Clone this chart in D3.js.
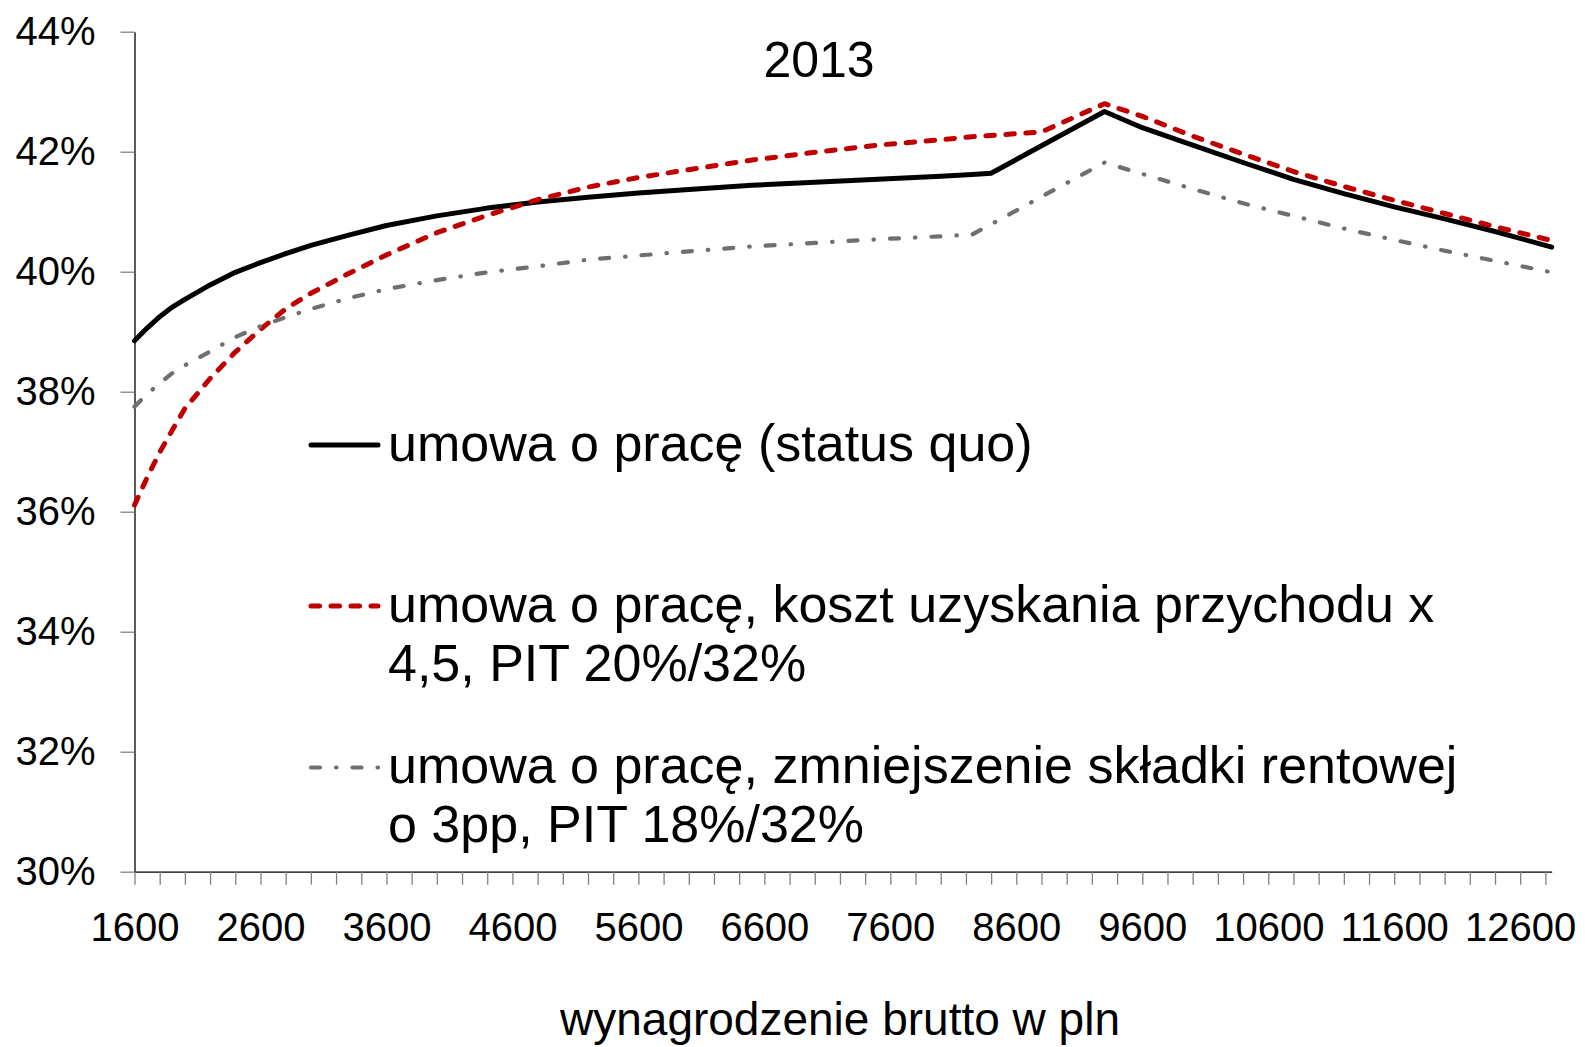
<!DOCTYPE html>
<html>
<head>
<meta charset="utf-8">
<script src="https://cdn.jsdelivr.net/npm/d3@7"></script>
<style>
  body { margin: 0; background: #fff; }
  svg { display: block; background: #fff; font-family: "Liberation Sans", Arial, sans-serif; }
</style>
</head>
<body>
<svg id="chart"></svg>
<script>
// gross monthly wage (PLN)
const wages = [1600, 1700, 1800, 1900, 2000, 2200, 2400, 2600, 2800, 3000, 3300, 3600, 4000, 4400, 4800, 5200,
  5600, 6000, 6500, 7000, 7500, 8000, 8250, 8400, 8800, 9300, 9600, 10000, 10400, 10800, 11200, 11600, 12000,
  12400, 12850]

// total tax wedge (%)
const statusQuo = [38.85, 39.06, 39.25, 39.41, 39.54, 39.78, 39.99, 40.15, 40.30, 40.44, 40.61, 40.77, 40.93, 41.06,
  41.16, 41.24, 41.31, 41.37, 41.44, 41.49, 41.54, 41.59, 41.62, 41.64, 42.10, 42.67, 42.40, 42.11, 41.82, 41.54,
  41.30, 41.08, 40.88, 40.67, 40.41]

const kosztX45 = [36.11, 36.57, 36.99, 37.36, 37.72, 38.22, 38.66, 39.04, 39.38, 39.64, 39.97, 40.28, 40.65, 40.94,
  41.20, 41.41, 41.57, 41.70, 41.86, 41.99, 42.11, 42.20, 42.25, 42.27, 42.33, 42.80, 42.59, 42.26, 41.96, 41.67,
  41.42, 41.19, 40.97, 40.75, 40.52]

const rentowa = [37.75, 37.96, 38.14, 38.31, 38.44, 38.67, 38.91, 39.09, 39.24, 39.38, 39.56, 39.71, 39.86, 39.99,
  40.09, 40.20, 40.27, 40.34, 40.42, 40.48, 40.54, 40.59, 40.62, 40.79, 41.25, 41.82, 41.63, 41.38, 41.14, 40.93,
  40.72, 40.53, 40.35, 40.18, 39.99]

const yTicks = [30, 32, 34, 36, 38, 40, 42, 44]
const xLabels = [1600, 2600, 3600, 4600, 5600, 6600, 7600, 8600, 9600, 10600, 11600, 12600]

const title = "2013"
const xTitle = "wynagrodzenie brutto w pln"

const series = [
  { values: statusQuo, color: "#000000", width: 5, dash: null,
    label: ["umowa o pracę (status quo)"] },
  { values: kosztX45, color: "#c00000", width: 5, dash: "8.5,11.5",
    label: ["umowa o pracę, koszt uzyskania przychodu x", "4,5, PIT 20%/32%"] },
  { values: rentowa, color: "#6f6f6f", width: 4.2, dash: "9,16,0.5,16",
    label: ["umowa o pracę, zmniejszenie składki rentowej", "o 3pp, PIT 18%/32%"] }
]

const width = 1585
const height = 1047

let svg = d3.select("#chart")
  .attr("width", width)
  .attr("height", height)

let x = d3.scaleLinear()
  .domain([1600, 12850])
  .range([134.5, 1551.7])

let y = d3.scaleLinear()
  .domain([30, 44])
  .range([871.7, 31.7])

// y axis
let yAxis = svg.append("g")
  .attr("class", "y-axis")
  .attr("transform", "translate(" + x.range()[0] + ",0)")
  .call(d3.axisLeft(y)
    .tickValues(yTicks)
    .tickSize(14)
    .tickSizeOuter(0)
    .tickPadding(25)
    .tickFormat(d => d + "%"))

yAxis.select(".domain").attr("stroke", "#000").attr("stroke-width", 1.3)
yAxis.selectAll(".tick line").attr("stroke", "#808080").attr("stroke-width", 1.3)
yAxis.selectAll(".tick text")
  .attr("fill", "#000")
  .style("font-size", "40px")

// x axis, a tick every 200 pln, a label every 1000
let xAxis = svg.append("g")
  .attr("class", "x-axis")
  .attr("transform", "translate(0," + y.range()[0] + ")")
  .call(d3.axisBottom(x)
    .tickValues(d3.range(1600, 12801, 200))
    .tickSize(13)
    .tickSizeOuter(0)
    .tickPadding(28)
    .tickFormat(d => xLabels.includes(d) ? d : ""))

xAxis.select(".domain").attr("stroke", "#000").attr("stroke-width", 1.3)
xAxis.selectAll(".tick line").attr("stroke", "#808080").attr("stroke-width", 1.3)
xAxis.selectAll(".tick text")
  .attr("fill", "#000")
  .style("font-size", "40px")

// axis title
svg.append("text")
  .attr("x", 840)
  .attr("y", 1035)
  .attr("text-anchor", "middle")
  .style("font-size", "46px")
  .text(xTitle)

// chart title
svg.append("text")
  .attr("x", 819)
  .attr("y", 77)
  .attr("text-anchor", "middle")
  .style("font-size", "50px")
  .text(title)

// lines
let line = d3.line()
  .x((d, i) => x(wages[i]))
  .y(d => y(d))

svg.append("g")
  .attr("class", "lines")
  .selectAll("path")
  .data(series)
  .join("path")
  .attr("d", d => line(d.values))
  .attr("fill", "none")
  .attr("stroke", d => d.color)
  .attr("stroke-width", d => d.width)
  .attr("stroke-dasharray", d => d.dash)
  .attr("stroke-linecap", "round")
  .attr("stroke-linejoin", "round")

// legend
const legendY = [445, 606, 767.5]
let legend = svg.append("g")
  .attr("class", "legend")

series.forEach((s, i) => {
  let g = legend.append("g")
    .attr("transform", "translate(0," + legendY[i] + ")")

  g.append("line")
    .attr("x1", 311)
    .attr("x2", 378)
    .attr("y1", 0)
    .attr("y2", 0)
    .attr("stroke", s.color)
    .attr("stroke-width", s.width)
    .attr("stroke-dasharray", s.dash)
    .attr("stroke-linecap", "round")

  g.selectAll("text")
    .data(s.label)
    .join("text")
    .attr("x", 388)
    .attr("y", (d, j) => 15.5 + j * 59)
    .style("font-size", "52px")
    .text(d => d)
})
</script>
</body>
</html>
